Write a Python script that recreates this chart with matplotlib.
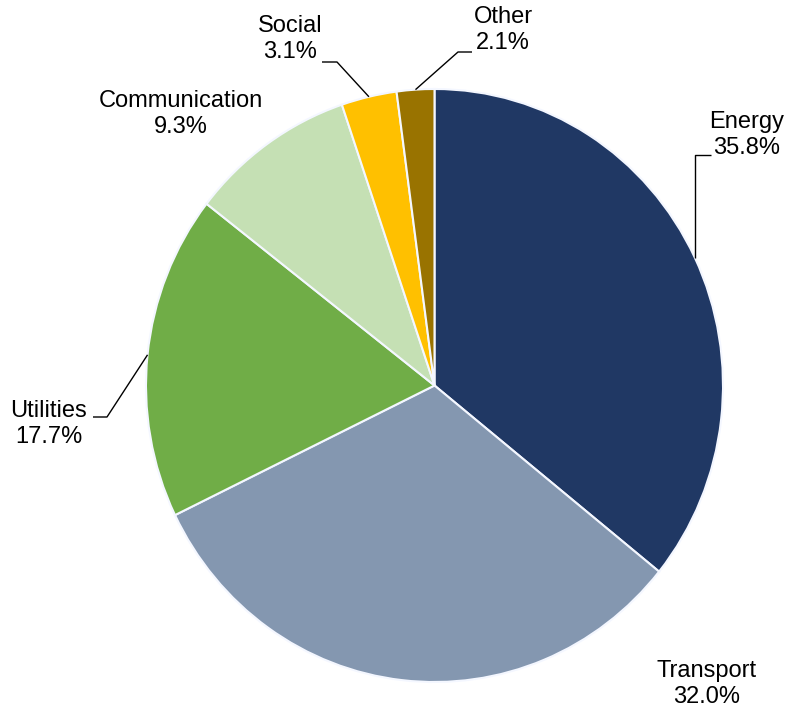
import numpy as np
import matplotlib
matplotlib.use("Agg")
import matplotlib.pyplot as plt

categories = ["Energy", "Transport", "Utilities", "Communication", "Social", "Other"]
values = [35.8, 32.0, 17.7, 9.3, 3.1, 2.1]
colors = ["#203864", "#8497B0", "#70AD47", "#C5E0B4", "#FFC000", "#997300"]

plt.rcParams['font.family'] = ['Liberation Sans', 'DejaVu Sans']

W, H = 790, 710
fig = plt.figure(figsize=(W / 100, H / 100), dpi=100)
cx, cy, rx, ry = 434.5, 385.5, 288.5, 296.5
ax = fig.add_axes([(cx - rx) / W, (H - cy - ry) / H, 2 * rx / W, 2 * ry / H])
wedges, _ = ax.pie(values, colors=colors, startangle=90, counterclock=False,
                   radius=1.0, wedgeprops=dict(edgecolor="#F4F7FF", linewidth=1.5))
ax.set_aspect('auto')
ax.set_xlim(-1, 1)
ax.set_ylim(-1, 1)
ax.axis('off')

def px2d(px, py):
    return (px - cx) / rx, (cy - py) / ry

# label positions (pixel centers)
label_pos = {
    "Energy": (747, 135),
    "Transport": (707, 684),
    "Utilities": (49, 424),
    "Communication": (181, 114),
    "Social": (290, 39),
    "Other": (503, 30),
}
# leader elbows (pixel): elbow point, end point
leaders = {
    "Energy": None,
    "Utilities": ((107, 417), (93, 417)),
    "Social": ((337, 62), (322, 62)),
    "Other": ((458, 52), (472, 52)),
}

for w, cat, v in zip(wedges, categories, values):
    x, y = px2d(*label_pos[cat])
    ax.text(x, y, f"{cat}\n{v:.1f}%", ha="center", va="center", fontsize=17,
            color="black", linespacing=1.2, clip_on=False)
    if cat in leaders:
        ang = np.deg2rad((w.theta1 + w.theta2) / 2)
        ex, ey = np.cos(ang), np.sin(ang)
        if cat == "Energy":
            ey2 = px2d(0, 155)[1]
            ex3 = px2d(711, 0)[0]
            xs, ys = [ex, ex, ex3], [ey, ey2, ey2]
        else:
            (bx, by), (tx, ty) = leaders[cat]
            b = px2d(bx, by)
            t = px2d(tx, ty)
            xs, ys = [ex, b[0], t[0]], [ey, b[1], t[1]]
        ax.plot(xs, ys, color="black", lw=1.0, clip_on=False, solid_capstyle="butt")

fig.savefig("out.png", dpi=100, facecolor="white")
